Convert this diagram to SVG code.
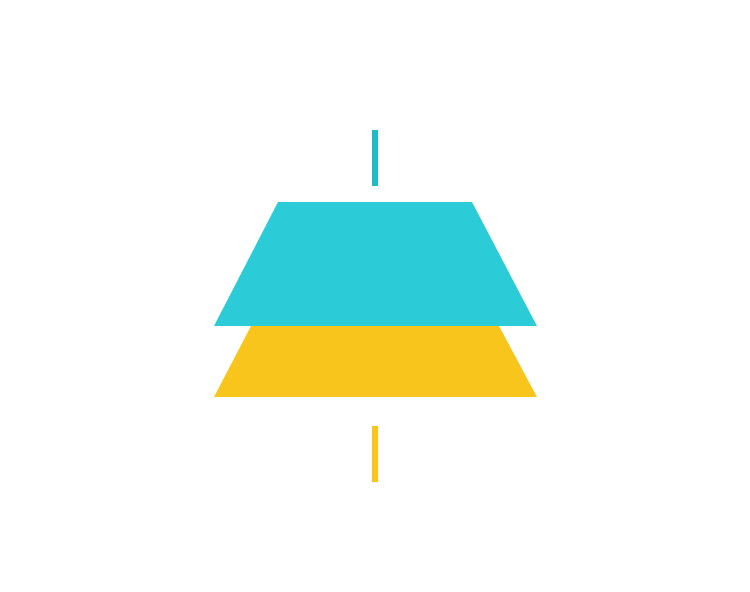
<svg xmlns="http://www.w3.org/2000/svg" width="750" height="592" viewBox="0 0 750 592">
<style>
.cyan{fill:#2ccbd8}
.yellow{fill:#f7c51b}
.bar-top{fill:#21bac9}
.bar-bottom{fill:#f7c51b}
</style>
<rect width="750" height="592" fill="#ffffff"/>
<g id="connectors">
<rect class="bar-top" x="372" y="130" width="6" height="56"/>
<rect class="bar-bottom" x="372" y="426" width="6" height="56"/>
</g>
<g id="node-yellow">
<polygon class="yellow" points="251,326 499,326 537,397 214,397"/>
</g>
<g id="node-cyan">
<polygon class="cyan" points="278,202 472,202 537,326 214,326"/>
</g>
</svg>
